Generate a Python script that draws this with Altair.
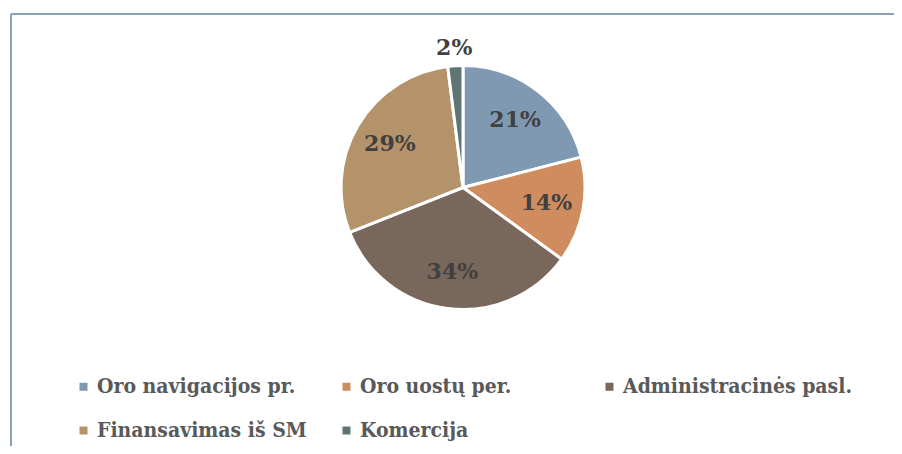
import altair as alt
import pandas as pd

categories = ["Oro navigacijos pr.", "Oro uostų per.", "Administracinės pasl.",
              "Finansavimas iš SM", "Komercija"]
shares = [21, 14, 34, 29, 2]
colors = ["#7F99B3", "#CF8C5E", "#7A675B", "#B4936A", "#5E7574"]

df = pd.DataFrame({"cat": categories, "share": shares, "idx": list(range(len(categories)))})
frame_df = pd.DataFrame({"a": [0]})

pie = alt.Chart(df).mark_arc(outerRadius=122, stroke="white", strokeWidth=3).encode(
    theta=alt.Theta("share:Q", stack=True, scale=alt.Scale(domain=[0, 100])),
    order=alt.Order("idx:Q"),
    color=alt.Color(
        "cat:N",
        scale=alt.Scale(domain=categories, range=colors),
        legend=alt.Legend(
            title=None, orient="none", legendX=41, legendY=368,
            direction="horizontal", columns=3, gridAlign="all",
            columnPadding=9, rowPadding=22,
            symbolType="square", symbolSize=64, symbolStrokeWidth=0,
            labelFont="DejaVu Serif Condensed", labelFontWeight="bold",
            labelFontSize=21, labelColor="#595959", labelOffset=3,
            labelLimit=400, padding=0,
        ),
    ),
)

text = alt.Chart(df).transform_window(
    cum="sum(share)", sort=[alt.SortField("idx")]
).transform_calculate(
    mid="datum.cum - datum.share / 2",
    label="datum.share + '%'",
    r="datum.share < 5 ? 140 : 85",
).mark_text(
    font="DejaVu Serif", fontWeight="bold", fontSize=22, color="#404040"
).encode(
    theta=alt.Theta("mid:Q", stack=None, scale=alt.Scale(domain=[0, 100])),
    text="label:N",
    radius=alt.Radius("r:Q", scale=None),
)

frame_top = alt.Chart(frame_df).mark_rule(color="#8AA0B6", strokeWidth=2).encode(
    x=alt.value(-21), x2=alt.value(900), y=alt.value(6)
)
frame_left = alt.Chart(frame_df).mark_rule(color="#8AA0B6", strokeWidth=2).encode(
    x=alt.value(-21), y=alt.value(6), y2=alt.value(500)
)

chart = alt.layer(frame_top, frame_left, pie, text).properties(
    width=862, height=359,
    padding={"left": 24, "top": 0, "right": 0, "bottom": 79},
    autosize=alt.AutoSizeParams(type="none"),
).configure_view(strokeWidth=0)

chart.save("out.html", embed_options={"renderer": "svg", "actions": False})
